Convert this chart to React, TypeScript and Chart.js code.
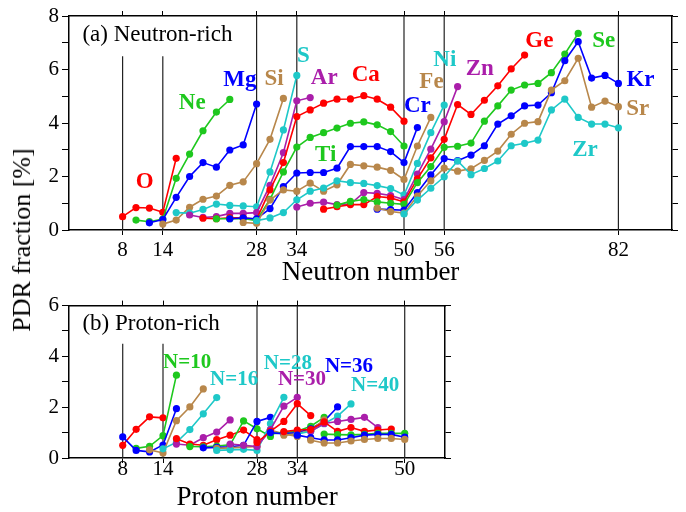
import React, { useEffect, useRef } from 'react';
import { Chart, registerables } from 'chart.js';

Chart.register(...registerables);

const RED = '#ff0000';
const GREEN = '#1ec81e';
const BLUE = '#0000ff';
const BROWN = '#b8874b';
const CYAN = '#1ec8c8';
const MAGENTA = '#aa1eaa';

// ---------- (a) Neutron-rich: isotopic chains, x = neutron number ----------
const oN = [8, 10, 12, 14, 16];
const oPDR = [0.5, 0.84, 0.82, 0.66, 2.68];
const neN = [10, 12, 14, 16, 18, 20, 22, 24];
const nePDR = [0.37, 0.31, 0.41, 1.93, 2.84, 3.71, 4.41, 4.88];
const mgN = [12, 14, 16, 18, 20, 22, 24, 26, 28];
const mgPDR = [0.27, 0.39, 1.22, 2.0, 2.52, 2.35, 2.99, 3.18, 4.71];
const siN = [14, 16, 18, 20, 22, 24, 26, 28, 30, 32];
const siPDR = [0.22, 0.37, 0.85, 1.15, 1.27, 1.67, 1.8, 2.48, 3.39, 4.92];
const sN = [16, 18, 20, 22, 24, 26, 28, 30, 32, 34];
const sPDR = [0.65, 0.63, 0.77, 0.97, 0.92, 0.9, 0.87, 2.17, 3.74, 5.78];
const arN = [18, 20, 22, 24, 26, 28, 30, 32, 34, 36];
const arPDR = [0.56, 0.47, 0.5, 0.62, 0.62, 0.65, 1.67, 2.89, 4.83, 4.95];
const caN = [20, 22, 24, 26, 28, 30, 32, 34, 36, 38, 40, 42, 44, 46, 48, 50];
const caPDR = [0.44, 0.42, 0.46, 0.46, 0.4, 1.5, 2.52, 4.24, 4.49, 4.74, 4.89, 4.9, 5.02, 4.89, 4.59, 4.07];
const tiN = [22, 24, 26, 28, 30, 32, 34, 36, 38, 40, 42, 44, 46, 48, 50];
const tiPDR = [0.42, 0.42, 0.43, 0.35, 1.15, 2.17, 3.1, 3.46, 3.64, 3.81, 3.99, 4.04, 3.93, 3.68, 3.14];
const crN = [24, 26, 28, 30, 32, 34, 36, 38, 40, 42, 44, 46, 48, 50, 52];
const crPDR = [0.42, 0.45, 0.42, 0.8, 1.62, 2.13, 2.15, 2.15, 2.31, 3.12, 3.12, 3.12, 2.93, 2.52, 3.83];
const feN = [26, 28, 30, 32, 34, 36, 38, 40, 42, 44, 46, 48, 50, 52, 54];
const fePDR = [0.28, 0.25, 1.12, 1.5, 1.45, 1.75, 1.45, 1.69, 2.45, 2.4, 2.35, 2.23, 1.89, 3.14, 4.21];
const niN = [28, 30, 32, 34, 36, 38, 40, 42, 44, 46, 48, 50, 52, 54, 56];
const niPDR = [0.35, 0.45, 0.65, 1.13, 1.45, 1.57, 1.84, 1.77, 1.74, 1.66, 1.55, 1.31, 2.49, 3.64, 4.67];
const znN = [34, 36, 38, 40, 42, 44, 46, 48, 50, 52, 54, 56, 58];
const znPDR = [0.86, 1.0, 1.04, 0.95, 0.97, 1.4, 1.37, 1.29, 1.14, 2.09, 3.02, 4.05, 5.36];
const geN = [38, 40, 42, 44, 46, 48, 50, 52, 54, 56, 58, 60, 62, 64, 66, 68];
const gePDR = [0.78, 0.87, 0.95, 0.95, 1.25, 1.2, 1.05, 1.91, 2.7, 3.39, 4.69, 4.32, 4.85, 5.39, 6.02, 6.54];
const seN = [40, 42, 44, 46, 48, 50, 52, 54, 56, 58, 60, 62, 64, 66, 68, 70, 72, 74, 76];
const sePDR = [0.93, 1.07, 1.14, 1.05, 1.0, 0.96, 1.77, 2.37, 3.09, 3.13, 3.25, 4.07, 4.64, 5.23, 5.42, 5.48, 5.88, 6.58, 7.35];
const krN = [46, 48, 50, 52, 54, 56, 58, 60, 62, 64, 66, 68, 70, 72, 74, 76, 78, 80, 82];
const krPDR = [0.78, 0.76, 0.74, 1.4, 2.06, 2.67, 2.59, 2.8, 3.15, 3.96, 4.27, 4.64, 4.67, 5.13, 6.33, 7.04, 5.68, 5.78, 5.48];
const srN = [46, 48, 50, 52, 54, 56, 58, 60, 62, 64, 66, 68, 70, 72, 74, 76, 78, 80, 82];
const srPDR = [0.82, 0.69, 0.63, 1.27, 1.84, 2.31, 2.2, 2.29, 2.6, 2.95, 3.58, 3.99, 4.05, 5.23, 5.58, 6.42, 4.59, 4.82, 4.61];
const zrN = [50, 52, 54, 56, 58, 60, 62, 64, 66, 68, 70, 72, 74, 76, 78, 80, 82];
const zrPDR = [0.6, 1.12, 1.56, 1.99, 2.58, 2.07, 2.3, 2.58, 3.15, 3.24, 3.36, 4.49, 4.89, 4.21, 3.96, 3.96, 3.82];

// ---------- (b) Proton-rich: isotonic chains, x = proton number ----------
const b1Z = [8, 10, 12, 14];
const b1PDR = [0.5, 1.13, 1.62, 1.58];
const b2Z = [10, 12, 14, 16];
const b2PDR = [0.38, 0.46, 0.88, 3.26];
const b3Z = [8, 10, 12, 14, 16];
const b3PDR = [0.83, 0.3, 0.24, 0.51, 1.94];
const b4Z = [12, 14, 16, 18, 20];
const b4PDR = [0.32, 0.2, 1.47, 2.01, 2.72];
const b5Z = [14, 16, 18, 20, 22];
const b5PDR = [0.36, 0.62, 1.12, 1.74, 2.38];
const b6Z = [16, 18, 20, 22, 24];
const b6PDR = [0.55, 0.5, 0.8, 1.02, 1.5];
const b7Z = [16, 18, 20, 22, 24, 26, 28];
const b7PDR = [0.76, 0.55, 0.5, 0.72, 0.9, 1.1, 0.72];
const b8Z = [18, 20, 22, 24, 26, 28, 30];
const b8PDR = [0.45, 0.44, 0.47, 0.52, 1.46, 1.15, 0.85];
const b9Z = [20, 22, 24, 26, 28, 30];
const b9PDR = [0.4, 0.42, 0.44, 0.5, 1.44, 1.6];
const b10Z = [22, 24, 26, 28, 30, 32, 34];
const b10PDR = [0.38, 0.4, 0.43, 0.45, 1.1, 0.95, 0.85];
const b11Z = [22, 24, 26, 28, 30, 32];
const b11PDR = [0.3, 0.32, 0.34, 0.3, 1.35, 2.39];
const b12Z = [24, 26, 28, 30, 32, 34];
const b12PDR = [0.55, 0.5, 0.45, 1.12, 2.04, 2.39];
const b13Z = [28, 30, 32, 34, 36];
const b13PDR = [0.61, 1.05, 1.44, 2.14, 1.67];
const b14Z = [30, 32, 34, 36, 38];
const b14PDR = [0.95, 1.0, 1.05, 1.25, 1.6];
const b15Z = [30, 32, 34, 36, 38, 40];
const b15PDR = [1.0, 0.95, 1.0, 1.15, 1.45, 2.01];
const b16Z = [32, 34, 36, 38];
const b16PDR = [0.9, 0.95, 1.1, 1.5];
const b17Z = [34, 36, 38, 40, 42];
const b17PDR = [0.95, 1.05, 1.35, 1.65, 2.13];
const b18Z = [36, 38, 40, 42, 44, 46];
const b18PDR = [1.05, 1.36, 1.44, 1.52, 1.6, 1.2];
const b19Z = [32, 34, 36, 38, 40, 42, 44, 46, 48];
const b19PDR = [1.04, 1.1, 1.12, 1.42, 1.05, 1.2, 1.05, 1.1, 1.14];
const b20Z = [38, 40, 42, 44, 46, 48, 50];
const b20PDR = [0.94, 0.92, 0.91, 0.93, 0.97, 0.97, 0.97];
const b21Z = [34, 36, 38, 40, 42, 44, 46, 48, 50];
const b21PDR = [0.9, 0.8, 0.71, 0.71, 0.8, 0.9, 0.93, 0.93, 0.82];
const b22Z = [36, 38, 40, 42, 44, 46, 48, 50];
const b22PDR = [0.7, 0.59, 0.59, 0.67, 0.73, 0.77, 0.77, 0.73];

// axis ticks (magic numbers)
const neutronTicks = [8, 14, 28, 34, 50, 56, 82];
const protonTicks = [8, 14, 28, 34, 50];
// magic-number guide lines: [number, upper end]
const topMagicLines = [[8, 6.5], [14, 6.5], [28, 8], [34, 8], [50, 8], [56, 8], [82, 8]];
const bottomMagicLines = [[8, 4.5], [14, 4.5], [28, 6], [34, 6], [50, 6]];

const SERIF = '"Liberation Serif", "Times New Roman", serif';
const ELEM_FONT = `bold 23px ${SERIF}`;
const ISO_FONT = `bold 21px ${SERIF}`;
const PANEL_FONT = `23px ${SERIF}`;

const topLabels = [
  { text: '(a) Neutron-rich', x: 2.0, y: 7.3, color: '#000', font: PANEL_FONT, align: 'left' },
  { text: 'O', x: 11.3, y: 1.79, color: RED, font: ELEM_FONT },
  { text: 'Ne', x: 18.4, y: 4.75, color: GREEN, font: ELEM_FONT },
  { text: 'Mg', x: 25.5, y: 5.6, color: BLUE, font: ELEM_FONT },
  { text: 'Si', x: 30.6, y: 5.63, color: BROWN, font: ELEM_FONT },
  { text: 'S', x: 35.0, y: 6.5, color: CYAN, font: ELEM_FONT },
  { text: 'Ar', x: 38.1, y: 5.68, color: MAGENTA, font: ELEM_FONT },
  { text: 'Ca', x: 44.3, y: 5.8, color: RED, font: ELEM_FONT },
  { text: 'Ti', x: 38.3, y: 2.8, color: GREEN, font: ELEM_FONT },
  { text: 'Cr', x: 52.0, y: 4.64, color: BLUE, font: ELEM_FONT },
  { text: 'Fe', x: 54.1, y: 5.53, color: BROWN, font: ELEM_FONT },
  { text: 'Ni', x: 56.1, y: 6.36, color: CYAN, font: ELEM_FONT },
  { text: 'Zn', x: 61.3, y: 6.02, color: MAGENTA, font: ELEM_FONT },
  { text: 'Ge', x: 70.2, y: 7.07, color: RED, font: ELEM_FONT },
  { text: 'Se', x: 79.8, y: 7.07, color: GREEN, font: ELEM_FONT },
  { text: 'Kr', x: 85.3, y: 5.6, color: BLUE, font: ELEM_FONT },
  { text: 'Sr', x: 84.9, y: 4.52, color: BROWN, font: ELEM_FONT },
  { text: 'Zr', x: 77.0, y: 2.99, color: CYAN, font: ELEM_FONT },
];

const bottomLabels = [
  { text: '(b) Proton-rich', x: 2.0, y: 5.26, color: '#000', font: PANEL_FONT, align: 'left' },
  { text: 'N=10', x: 17.6, y: 3.75, color: GREEN, font: ISO_FONT },
  { text: 'N=16', x: 24.6, y: 3.1, color: CYAN, font: ISO_FONT },
  { text: 'N=28', x: 32.6, y: 3.73, color: CYAN, font: ISO_FONT },
  { text: 'N=30', x: 34.7, y: 3.1, color: MAGENTA, font: ISO_FONT },
  { text: 'N=36', x: 41.7, y: 3.58, color: BLUE, font: ISO_FONT },
  { text: 'N=40', x: 45.6, y: 2.87, color: CYAN, font: ISO_FONT },
];

type ChainSpec = { x: number[]; v: number[]; color: string };

const topChains: ChainSpec[] = [
  { x: oN, v: oPDR, color: RED },
  { x: neN, v: nePDR, color: GREEN },
  { x: mgN, v: mgPDR, color: BLUE },
  { x: siN, v: siPDR, color: BROWN },
  { x: sN, v: sPDR, color: CYAN },
  { x: arN, v: arPDR, color: MAGENTA },
  { x: caN, v: caPDR, color: RED },
  { x: tiN, v: tiPDR, color: GREEN },
  { x: crN, v: crPDR, color: BLUE },
  { x: feN, v: fePDR, color: BROWN },
  { x: niN, v: niPDR, color: CYAN },
  { x: znN, v: znPDR, color: MAGENTA },
  { x: geN, v: gePDR, color: RED },
  { x: seN, v: sePDR, color: GREEN },
  { x: krN, v: krPDR, color: BLUE },
  { x: srN, v: srPDR, color: BROWN },
  { x: zrN, v: zrPDR, color: CYAN },
];

const bottomChains: ChainSpec[] = [
  { x: b1Z, v: b1PDR, color: RED },
  { x: b2Z, v: b2PDR, color: GREEN },
  { x: b3Z, v: b3PDR, color: BLUE },
  { x: b4Z, v: b4PDR, color: BROWN },
  { x: b5Z, v: b5PDR, color: CYAN },
  { x: b6Z, v: b6PDR, color: MAGENTA },
  { x: b7Z, v: b7PDR, color: RED },
  { x: b8Z, v: b8PDR, color: GREEN },
  { x: b9Z, v: b9PDR, color: BLUE },
  { x: b10Z, v: b10PDR, color: BROWN },
  { x: b11Z, v: b11PDR, color: CYAN },
  { x: b12Z, v: b12PDR, color: MAGENTA },
  { x: b13Z, v: b13PDR, color: RED },
  { x: b14Z, v: b14PDR, color: GREEN },
  { x: b15Z, v: b15PDR, color: BLUE },
  { x: b16Z, v: b16PDR, color: BROWN },
  { x: b17Z, v: b17PDR, color: CYAN },
  { x: b18Z, v: b18PDR, color: MAGENTA },
  { x: b19Z, v: b19PDR, color: RED },
  { x: b20Z, v: b20PDR, color: GREEN },
  { x: b21Z, v: b21PDR, color: BLUE },
  { x: b22Z, v: b22PDR, color: BROWN },
];

type PanelSpec = {
  chains: ChainSpec[];
  magic: number[][];
  xTicks: number[];
  xMax: number;
  yMax: number;
  xTitle: string;
  labels: any[];
  topH: number;
  bottomH: number;
  rightPad: number;
  titlePad: number;
  tickPad: number;
};

const TICK_FONT = { family: SERIF, size: 21 };
const AXIS_COLOR = '#000';

function makeConfig(p: PanelSpec): any {
  const n = p.chains.length;
  const datasets: any[] = p.chains.map((c, i) => ({
    data: c.x.map((xv, k) => ({ x: xv, y: c.v[k] })),
    borderColor: c.color,
    backgroundColor: c.color,
    showLine: true,
    borderWidth: 1.6,
    pointRadius: 3.6,
    pointHoverRadius: 3.6,
    pointBorderWidth: 0,
    order: n - i,
  }));
  p.magic.forEach(([m, h]) => {
    datasets.push({
      data: [{ x: m, y: 0 }, { x: m, y: h }],
      borderColor: '#222',
      borderWidth: 1.2,
      pointRadius: 0,
      showLine: true,
      order: n + 10,
    });
  });

  const labelPlugin = {
    id: 'panelLabels',
    afterDatasetsDraw(chart: any) {
      const { ctx } = chart;
      const xs = chart.scales.x;
      const ys = chart.scales.y;
      ctx.save();
      for (const l of p.labels) {
        ctx.font = l.font;
        ctx.fillStyle = l.color;
        ctx.textAlign = l.align || 'center';
        ctx.textBaseline = 'middle';
        ctx.fillText(l.text, xs.getPixelForValue(l.x), ys.getPixelForValue(l.y));
      }
      ctx.restore();
    },
  };

  const setTicks = (ax: any) => {
    ax.ticks = p.xTicks.map((v) => ({ value: v }));
  };
  const border = { display: true, color: AXIS_COLOR, width: 1.5 };

  return {
    type: 'scatter',
    data: { datasets },
    plugins: [labelPlugin],
    options: {
      animation: false,
      responsive: false,
      devicePixelRatio: 1,
      layout: { padding: { left: 0, top: 0, bottom: 0, right: p.rightPad } },
      plugins: { legend: { display: false }, tooltip: { enabled: false } },
      scales: {
        x: {
          type: 'linear',
          position: 'bottom',
          min: 0,
          max: p.xMax,
          afterBuildTicks: setTicks,
          ticks: {
            font: TICK_FONT,
            color: '#000',
            padding: p.tickPad,
            autoSkip: false,
            maxRotation: 0,
            callback: (v: any) => String(v),
          },
          grid: { drawOnChartArea: false, drawTicks: true, tickLength: 5, color: AXIS_COLOR, lineWidth: 1 },
          border,
          title: {
            display: true,
            text: p.xTitle,
            color: '#000',
            font: { family: SERIF, size: 27, lineHeight: 1 },
            padding: { top: 0, bottom: p.titlePad },
          },
          afterFit: (s: any) => {
            s.height = p.bottomH;
          },
        },
        x2: {
          axis: 'x',
          type: 'linear',
          position: 'top',
          min: 0,
          max: p.xMax,
          afterBuildTicks: setTicks,
          ticks: { display: false, autoSkip: false },
          grid: { drawOnChartArea: false, drawTicks: true, tickLength: 5, color: AXIS_COLOR, lineWidth: 1 },
          border,
          afterFit: (s: any) => {
            s.height = p.topH;
          },
        },
        y: {
          type: 'linear',
          position: 'left',
          min: 0,
          max: p.yMax,
          ticks: {
            stepSize: 1,
            autoSkip: false,
            font: TICK_FONT,
            color: '#000',
            padding: 3,
            callback: (v: any) => (v % 2 === 0 ? String(v) : ''),
          },
          grid: { drawOnChartArea: false, drawTicks: true, tickLength: 7, color: AXIS_COLOR, lineWidth: 1 },
          border,
          afterFit: (s: any) => {
            s.width = 69;
          },
        },
        y2: {
          axis: 'y',
          type: 'linear',
          position: 'right',
          min: 0,
          max: p.yMax,
          ticks: { display: false, stepSize: 1, autoSkip: false },
          grid: { drawOnChartArea: false, drawTicks: true, tickLength: 6, color: AXIS_COLOR, lineWidth: 1 },
          border,
          afterFit: (s: any) => {
            s.width = 14;
          },
        },
      },
    },
  };
}

const TOP_H = 290;
const BOTTOM_H = 222;

export default function App() {
  const topRef = useRef<HTMLCanvasElement | null>(null);
  const bottomRef = useRef<HTMLCanvasElement | null>(null);

  useEffect(() => {
    const c1 = new Chart(
      topRef.current as HTMLCanvasElement,
      makeConfig({
        chains: topChains,
        magic: topMagicLines,
        xTicks: neutronTicks,
        xMax: 90,
        yMax: 8,
        xTitle: 'Neutron number',
        labels: topLabels,
        topH: 16,
        bottomH: 60,
        rightPad: 0,
        titlePad: 4,
        tickPad: 3,
      })
    );
    const c2 = new Chart(
      bottomRef.current as HTMLCanvasElement,
      makeConfig({
        chains: bottomChains,
        magic: bottomMagicLines,
        xTicks: protonTicks,
        xMax: 56,
        yMax: 6,
        xTitle: 'Proton number',
        labels: bottomLabels,
        topH: 7,
        bottomH: 54,
        rightPad: 227,
        titlePad: 1,
        tickPad: -6,
      })
    );
    return () => {
      c1.destroy();
      c2.destroy();
    };
  }, []);

  return (
    <div style={{ position: 'absolute', left: 0, top: 0, width: 686, height: 512, background: '#fff' }}>
      <canvas
        ref={topRef}
        width={686}
        height={TOP_H}
        style={{ position: 'absolute', left: 0, top: 0, width: 686, height: TOP_H }}
      />
      <canvas
        ref={bottomRef}
        width={686}
        height={BOTTOM_H}
        style={{ position: 'absolute', left: 0, top: TOP_H, width: 686, height: BOTTOM_H }}
      />
      <div
        style={{
          position: 'absolute',
          left: 22,
          top: 240,
          transform: 'translate(-50%, -50%) rotate(-90deg)',
          font: `26px ${SERIF}`,
          whiteSpace: 'nowrap',
          color: '#000',
        }}
      >
        PDR fraction [%]
      </div>
    </div>
  );
}
